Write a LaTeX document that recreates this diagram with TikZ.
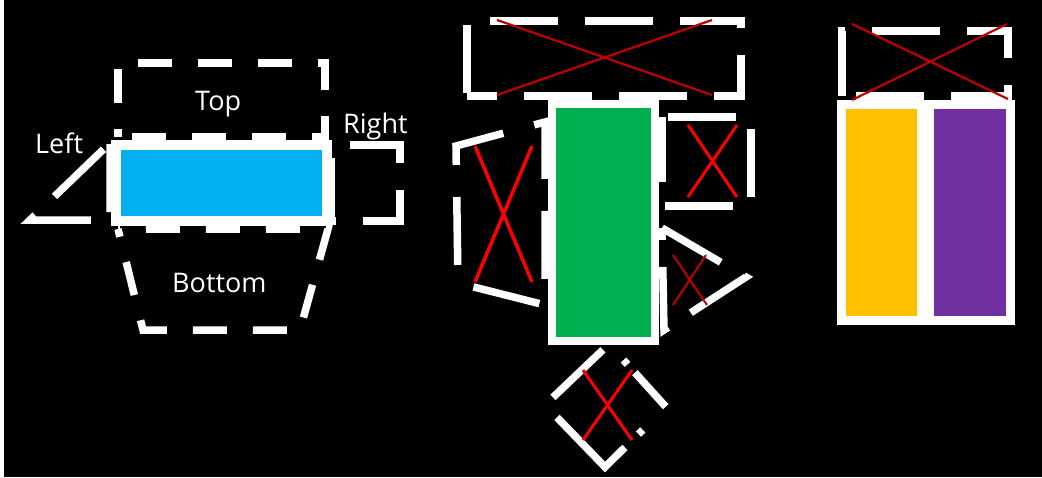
\documentclass[tikz,border=0pt]{standalone}
\usepackage{fontspec}
\setmainfont{Open Sans}
\usetikzlibrary{positioning}
\definecolor{skyblue}{HTML}{00B0F0}
\definecolor{leafgreen}{HTML}{00B050}
\definecolor{amber}{HTML}{FFC000}
\definecolor{plum}{HTML}{7030A0}
\definecolor{darkred}{HTML}{C00000}
\tikzset{
    elem/.style={draw=white, inner sep=0pt, outer sep=0pt},
    region/.style={draw=white, line width=7.5pt, dash pattern=on 34pt off 26pt},
    longregion/.style={draw=white, line width=7.5pt, dash pattern=on 68pt off 27pt},
    cross/.style={draw=red, line width=3pt},
    thincross/.style={draw=darkred, line width=2.2pt}
}

\begin{document}
\begin{tikzpicture}[x=1pt, y=-1pt,
    lbl/.style={text=white, font=\fontsize{27}{27}\selectfont, anchor=base west, inner sep=0pt}
]
    \fill[black] (0,0) rectangle (1042,477);
    \fill[white] (0,0) rectangle (4,477);
    \useasboundingbox (0,0) rectangle (1042,477);

    % element with its four neighbour regions
    \node[elem, line width=10pt, fill=skyblue, minimum width=210.5pt, minimum height=76pt] (bluebox) at (221.25,183) {};
    \draw[region, dash phase=26pt] (118,137) -- (118,63) -- (325,63) -- (325,137) -- cycle;
    \draw[region, dash phase=26pt] (118,229) -- (143,330) -- (300,330) -- (328,229) -- cycle;
    \draw[longregion, dash phase=86pt] (110,143) -- (30,220) -- (110,220) -- cycle;
    \draw[longregion, dash phase=76pt] (331,145) -- (400,145) -- (400,221) -- (331,221) -- cycle;

    \node[lbl] (toplbl) at (195,110) {Top};
    \node[lbl] (rightlbl) at (343,133) {Right};
    \node[lbl] (leftlbl) at (35,153) {Left};
    \node[lbl] (bottomlbl) at (172,292) {Bottom};

    % tall element, all neighbours struck out
    \node[elem, line width=8pt, fill=leafgreen, minimum width=103pt, minimum height=237pt] (greenbox) at (603.5,222.5) {};
    \draw[longregion, dash phase=92pt] (467,96) -- (467,21) -- (741,21) -- (741,96) -- cycle;
    \draw[longregion, dash phase=89pt] (662,117) -- (751,117) -- (751,206) -- (662,206) -- cycle;
    \draw[longregion, dash pattern=on 68pt off 32pt, dash phase=82pt] (458,283) -- (456,146) -- (545,122) -- (545,305) -- cycle;
    \draw[longregion] (662,228) -- (746,277) -- (664,330) -- cycle;
    \draw[longregion, dash pattern=on 69pt off 30pt on 6pt off 11pt on 46pt off 33pt on 6pt off 19pt on 97pt off 28pt,
          dash phase=334pt] (545,405) -- (609,344) -- (666,407) -- (605,467) -- cycle;

    \draw[thincross] (497,20) -- (712,95) (712,20) -- (497,95);
    \draw[cross] (688,125) -- (737,197) (737,125) -- (688,197);
    \draw[cross, line width=3.5pt] (475,146) -- (532,282) (532,146) -- (475,282);
    \draw[thincross, line width=2pt] (673,255) -- (707,305) (706,255) -- (673,305);
    \draw[cross] (583,370) -- (632,440) (632,370) -- (583,440);

    % pair of elements sharing one top neighbour
    \node[elem, line width=9pt, fill=amber, minimum width=80pt, minimum height=216pt] (amberbox) at (881.5,212.5) {};
    \node[elem, line width=9pt, fill=plum, minimum width=81pt, minimum height=216pt] (plumbox) at (970,212.5) {};
    \draw[longregion] (842,96) -- (842,31) -- (1008,31) -- (1008,96) -- cycle;
    \draw[thincross] (852,24) -- (1008,99) (1007,24) -- (852,100);
\end{tikzpicture}
\end{document}
